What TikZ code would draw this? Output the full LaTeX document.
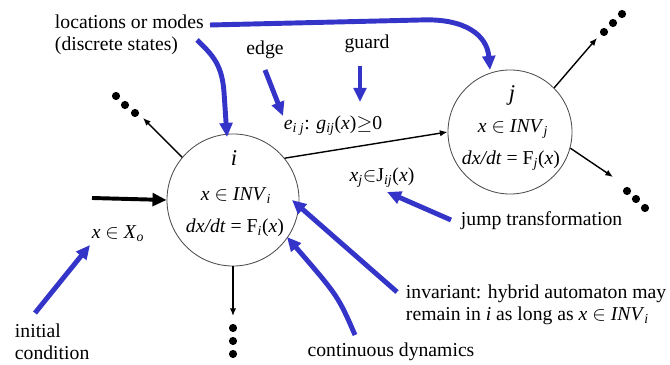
\documentclass[tikz,border=0pt]{standalone}
\usepackage{amsmath}
\usepackage{fontspec}
\setmainfont{Liberation Serif}
\usetikzlibrary{arrows.meta}
\definecolor{noteblue}{RGB}{52,52,200}
\newcommand{\vi}[1]{\textit{#1}}

\begin{document}
\begin{tikzpicture}[x=0.025cm, y=-0.025cm,
    font=\fontsize{14}{16}\selectfont,
    mode/.style={circle, draw=black!70, line width=0.6pt, minimum size=#1, inner sep=0pt},
    note/.style={draw=noteblue, line width=3.5pt, -{Triangle[length=10pt,width=9pt]}},
    flow/.style={line width=1pt, -{Latex[length=5.5pt,width=4.5pt]}},
    dot/.style={circle, fill=black, inner sep=0pt, minimum size=5.8pt}]
    \useasboundingbox (0,0) rectangle (670,365);

    % the two modes
    \node[mode=3.3cm] (i) at (233,200) {};
    \node[mode=3.1cm] (j) at (510,132) {};

    \node (ilab) at (234,158) {\fontsize{16}{18}\selectfont\vi{i}};
    \node (iinv) at (236,196) {\vi{x} $\in$ \vi{INV}\textsubscript{\vi{i}}};
    \node (idyn) at (235,228) {\vi{dx/dt} = F\textsubscript{\vi{i}}(\vi{x})};
    \node (jlab) at (512,95) {\fontsize{16}{18}\selectfont\vi{j}};
    \node (jinv) at (513,129) {\vi{x} $\in$ \vi{INV}\textsubscript{\vi{j}}};
    \node (jdyn) at (511,161) {\vi{dx/dt} = F\textsubscript{\vi{j}}(\vi{x})};

    % edge labels
    \node (guardexp) at (333,126) {\vi{e}\textsubscript{\vi{i j}}: \vi{g}\textsubscript{\vi{ij}}(\vi{x})$\geq$0};
    \node (jumpexp) at (382,178) {\vi{x}\textsubscript{\vi{j}}$\in$J\textsubscript{\vi{ij}}(\vi{x})};
    \node (initexp) at (118,234) {\vi{x} $\in$ \vi{X}\textsubscript{\vi{o}}};

    % annotations
    \node[align=left, anchor=west] (locs) at (50,35) {locations or modes\\(discrete states)};
    \node (edgetxt) at (265,50) {edge};
    \node (guardtxt) at (367,44) {guard};
    \node[anchor=west] (jumptxt) at (456,221) {jump transformation};
    \node[align=left, anchor=west] (invtxt) at (401,305) {invariant: hybrid automaton may\\remain in \vi{i} as long as \vi{x} $\in$ \vi{INV}\textsubscript{\vi{i}}};
    \node (conttxt) at (391,352) {continuous dynamics};
    \node[align=left, anchor=west] (inittxt) at (10,342) {initial\\condition};

    % transitions
    \coordinate (istart) at (92,198);
    \coordinate (iup) at (143,118);
    \coordinate (idown) at (233,316);
    \coordinate (jup) at (597,38);
    \coordinate (jdown) at (613,177);

    \draw[line width=2.8pt, -{Triangle[length=10pt,width=9pt]}] (istart) -- (i.west);
    \draw[flow] (i.39) -- (j.west);
    \draw[flow] (i.140) -- (iup);
    \draw[flow] (i.south) -- (idown);
    \draw[flow] (j.45) -- (jup);
    \draw[flow] (j.-15) -- (jdown);

    \foreach \px/\py [count=\n] in {116/96, 125/105, 135/113} {
        \node[dot] (iupdot\n) at (\px,\py) {};
    }
    \foreach \py [count=\n] in {328, 341, 354} {
        \node[dot] (idowndot\n) at (233,\py) {};
    }
    \foreach \px/\py [count=\n] in {604/32, 613/23, 622/14} {
        \node[dot] (jupdot\n) at (\px,\py) {};
    }
    \foreach \px/\py [count=\n] in {627/191, 636/199, 645/208} {
        \node[dot] (jdowndot\n) at (\px,\py) {};
    }

    % blue pointers
    \coordinate (locsA) at (210,25);
    \coordinate (locsB) at (197,40);
    \coordinate (toj) at (490,70);
    \coordinate (toi) at (227,137);
    \coordinate (edgeA) at (265,70);
    \coordinate (edgeB) at (283,116);
    \coordinate (guardA) at (360,66);
    \coordinate (guardB) at (360,102);
    \coordinate (jumpA) at (451,220);
    \coordinate (jumpB) at (387,192);
    \coordinate (invA) at (397,292);
    \coordinate (invB) at (292,200);
    \coordinate (contA) at (355,335);
    \coordinate (contB) at (287,237);
    \coordinate (initA) at (35,313);
    \coordinate (initB) at (90,245);

    \draw[note] (locsA) -- (420,20) .. controls (465,18) and (487,35) .. (toj);
    \draw[note] (locsB) .. controls (214,56) and (222,66) .. (224,92) -- (toi);
    \draw[note] (edgeA) -- (edgeB);
    \draw[note] (guardA) -- (guardB);
    \draw[note] (jumpA) -- (jumpB);
    \draw[note] (invA) -- (invB);
    \draw[note] (contA) .. controls (338,296) .. (contB);
    \draw[note] (initA) -- (initB);
\end{tikzpicture}
\end{document}
